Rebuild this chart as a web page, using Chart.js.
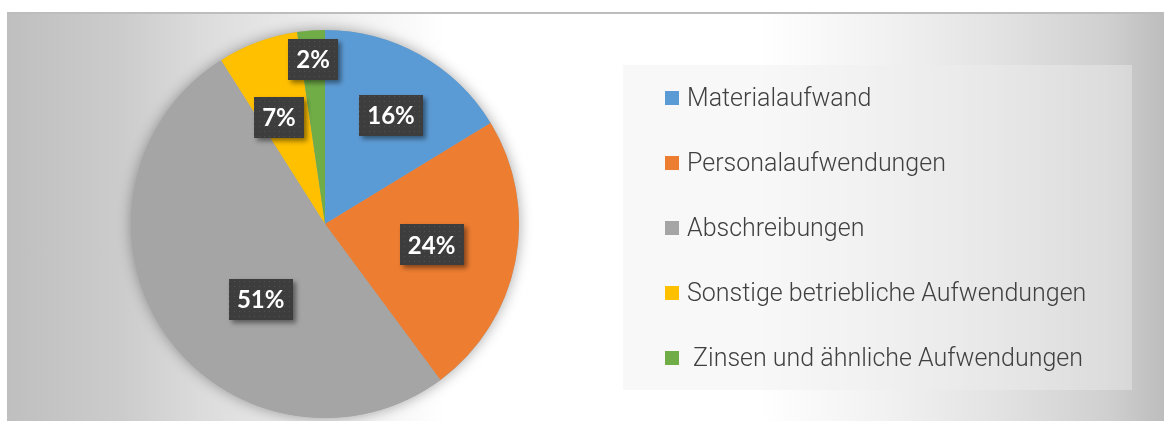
<!DOCTYPE html>
<html lang="de">
<head>
<meta charset="utf-8">
<title>Aufwandsstruktur</title>
<script src="https://cdn.jsdelivr.net/npm/chart.js@4.4.1/dist/chart.umd.min.js"></script>
<style>
  html, body { margin: 0; padding: 0; background: #fff; }
  body { width: 1164px; height: 421px; position: relative; overflow: hidden; }
  #frame {
    position: absolute; left: 7px; top: 12px; width: 1157px; height: 407px;
    border-top: 2px solid #bdbdbd;
    background: linear-gradient(90deg, #bfbfbf 0%, #cccccc 10%, #dcdcdc 17%, #ffffff 38%,
      #ffffff 65%, #f0f0f0 77%, #e2e2e2 86%, #d0d0d0 95%, #bdbdbd 100%);
  }
  #chartWrap { position: absolute; left: 0; top: 0; width: 1157px; height: 407px; }
  #legend {
    position: absolute; left: 616px; top: 51px; width: 509px; height: 325px;
    background: rgba(238, 238, 238, 0.42);
    font-family: Roboto, "Liberation Sans", sans-serif; font-weight: 300;
    font-size: 25px; color: #404040;
  }
  .row { height: 65px; display: flex; align-items: center; padding-left: 42px; white-space: pre; }
  .sw { width: 14px; height: 14px; margin-right: 8px; flex: none; }
</style>
</head>
<body>
<div id="frame">
  <div id="chartWrap"><canvas id="chart"></canvas></div>
  <div id="legend"></div>
</div>
<script>
// data (shares in %, labels rounded)
const categories = [
  'Materialaufwand',
  'Personalaufwendungen',
  'Abschreibungen',
  'Sonstige betriebliche Aufwendungen',
  ' Zinsen und ähnliche Aufwendungen'
];
const shares = [16.3, 23.6, 51.2, 6.7, 2.3];
const colors = ['#5b9bd5', '#ed7d31', '#a5a5a5', '#ffc000', '#70ad47'];

// dotted dark fill for the data label boxes
function makeDotPattern() {
  const c = document.createElement('canvas');
  c.width = 5; c.height = 5;
  const g = c.getContext('2d');
  g.fillStyle = '#3d3d3d';
  g.fillRect(0, 0, 5, 5);
  g.fillStyle = '#515151';
  g.fillRect(2, 2, 1, 1);
  return c;
}

// soft halo behind the pie
const pieShadow = {
  id: 'pieShadow',
  beforeDatasetsDraw(chart) {
    const arc = chart.getDatasetMeta(0).data[0];
    if (!arc) return;
    const ctx = chart.ctx;
    ctx.save();
    ctx.shadowColor = 'rgba(0,0,0,0.35)';
    ctx.shadowBlur = 14;
    ctx.beginPath();
    ctx.arc(arc.x, arc.y, arc.outerRadius, 0, Math.PI * 2);
    ctx.fillStyle = '#a5a5a5';
    ctx.fill();
    ctx.restore();
  }
};

// percentage labels in dark boxes
const boxLabels = {
  id: 'boxLabels',
  afterDatasetsDraw(chart, args, opts) {
    const ctx = chart.ctx;
    const meta = chart.getDatasetMeta(0);
    const data = chart.data.datasets[0].data;
    const total = data.reduce((a, b) => a + b, 0);
    const pattern = ctx.createPattern(makeDotPattern(), 'repeat');
    ctx.save();
    ctx.font = opts.font;
    ctx.textAlign = 'center';
    ctx.textBaseline = 'middle';
    meta.data.forEach((arc, i) => {
      const mid = (arc.startAngle + arc.endAngle) / 2 + (opts.shift[i] || 0) * Math.PI / 180;
      const r = arc.outerRadius * opts.radius[i];
      const x = arc.x + Math.cos(mid) * r;
      const y = arc.y + Math.sin(mid) * r;
      const txt = Math.round(data[i] / total * 100) + '%';
      const w = ctx.measureText(txt).width + 16;
      const h = 41;
      ctx.save();
      ctx.shadowColor = 'rgba(0,0,0,0.45)';
      ctx.shadowBlur = 5;
      ctx.shadowOffsetX = 3;
      ctx.shadowOffsetY = 3;
      ctx.fillStyle = pattern;
      ctx.fillRect(Math.round(x - w / 2), Math.round(y - h / 2), Math.round(w), h);
      ctx.restore();
      ctx.fillStyle = '#ffffff';
      ctx.fillText(txt, x, y + 1);
    });
    ctx.restore();
  }
};

new Chart(document.getElementById('chart'), {
  type: 'pie',
  data: {
    labels: categories,
    datasets: [{
      data: shares,
      backgroundColor: colors,
      borderWidth: 0
    }]
  },
  options: {
    responsive: true,
    maintainAspectRatio: false,
    animation: false,
    layout: { padding: { left: 124, right: 645, top: 16, bottom: 3 } },
    plugins: {
      legend: { display: false },
      tooltip: { enabled: false },
      boxLabels: {
        font: 'bold 24px Lato, "Open Sans", sans-serif',
        radius: [0.655, 0.56, 0.51, 0.60, 0.85],
        shift: [2, 0, -15, -3, 0]
      }
    }
  },
  plugins: [pieShadow, boxLabels]
});

// legend built from the same arrays
const legendEl = document.getElementById('legend');
categories.forEach((name, i) => {
  const row = document.createElement('div');
  row.className = 'row';
  const sw = document.createElement('span');
  sw.className = 'sw';
  sw.style.background = colors[i];
  const t = document.createElement('span');
  t.textContent = name;
  row.appendChild(sw);
  row.appendChild(t);
  legendEl.appendChild(row);
});
</script>
</body>
</html>
